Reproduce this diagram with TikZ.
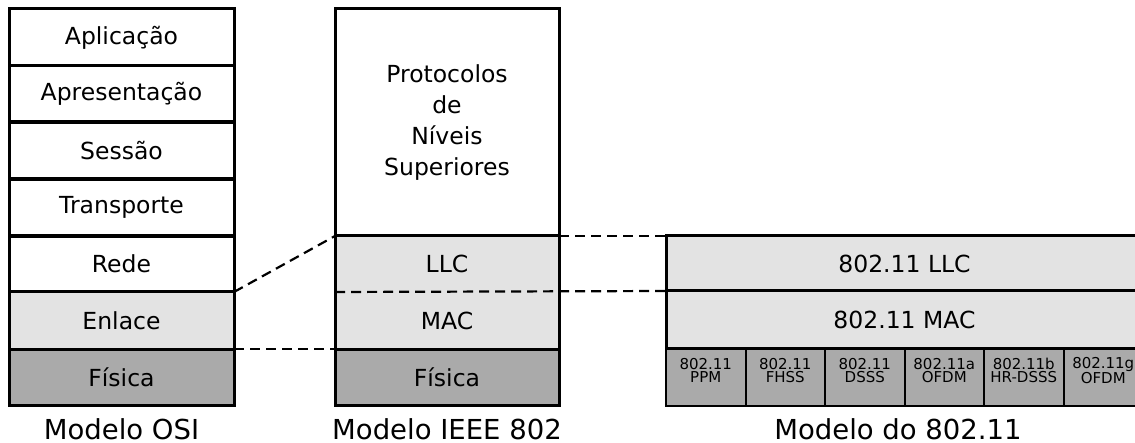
\documentclass[tikz,border=0pt]{standalone}
\usepackage{fontspec}
\setmainfont{DejaVu Sans}
\usepackage{tikz}

\definecolor{enlacegray}{HTML}{E3E3E3}
\definecolor{fisicagray}{HTML}{AAAAAA}

\begin{document}
\begin{tikzpicture}[x=1pt,y=-1pt,
	layer/.style={rectangle, draw, line width=3pt, inner sep=0pt, outer sep=0pt, minimum width=225pt, minimum height=57.7pt, font=\fontsize{23.5}{31.3}\selectfont},
	enlace/.style={layer, fill=enlacegray},
	fisica/.style={layer, fill=fisicagray},
	phy/.style={rectangle, draw, line width=2pt, fill=fisicagray, inner sep=0pt, outer sep=0pt, minimum width=79.5pt, minimum height=56.7pt, align=center, text depth=14pt, font=\fontsize{15}{13}\selectfont},
	caption/.style={anchor=base, text depth=0pt, font=\fontsize{27.5}{30}\selectfont},
	link/.style={line width=2.2pt, dash pattern=on 10pt off 6pt}]
\clip (0,0) rectangle (1135,443);
% Modelo OSI
\node (apl) at (121.5,37.35) [layer, minimum height=56.7pt] {Aplicação};
\node (apr) at (121.5,94.05) [layer] {Apresentação};
\node (ses) at (121.5,150.75) [layer] {Sessão};
\node (tra) at (121.5,207.45) [layer] {Transporte};
\node (red) at (121.5,264.15) [layer] {Rede};
\node (enl) at (121.5,320.85) [enlace] {Enlace};
\node (fis) at (121.5,377.55) [fisica, minimum height=56.7pt] {Física};
\node (osi) at (121.5,439) [caption] {Modelo OSI};
% Modelo IEEE 802
\node (sup) at (447,122.5) [layer, minimum width=224pt, minimum height=227pt, align=center] {Protocolos\\de\\Níveis\\Superiores};
\node (llc) at (447,264) [enlace, minimum width=224pt, minimum height=56pt, draw=none] {LLC};
\node (mac) at (447,320.6) [enlace, minimum width=224pt, minimum height=57.2pt, draw=none] {MAC};
\draw[line width=3pt] (llc.north west) rectangle (mac.south east);
\node (fisb) at (447,377.55) [fisica, minimum width=224pt, minimum height=56.7pt] {Física};
\node (ieee) at (447,439) [caption] {Modelo IEEE 802};
% Modelo do 802.11 (corta na margem direita)
\node (llcw) at (904.5,263.5) [enlace, overlay, minimum width=477pt, minimum height=55pt] {802.11 LLC};
\node (macw) at (904.5,320) [enlace, overlay, minimum width=477pt, minimum height=58pt] {802.11 MAC};
\node (ppm) at (705.75,377.55) [phy] {802.11\\PPM};
\node (fhss) at (785.25,377.55) [phy] {802.11\\FHSS};
\node (dsss) at (864.75,377.55) [phy] {802.11\\DSSS};
\node (ofa) at (944.25,377.55) [phy] {802.11a\\OFDM};
\node (hrb) at (1023.75,377.55) [phy] {802.11b\\HR-DSSS};
\node (ofg) at (1103.25,377.55) [phy, overlay] {802.11g\\OFDM};
\node (wifi) at (898,439) [caption] {Modelo do 802.11};
% ligacoes
\draw[link] (enl.north east) -- (llc.north west);
\draw[link] (fis.north east) -- (fisb.north west);
\draw[link] (llc.north east) -- (llcw.north west);
\draw[link] (llc.south west) -- (llcw.south west);
\end{tikzpicture}
\end{document}
